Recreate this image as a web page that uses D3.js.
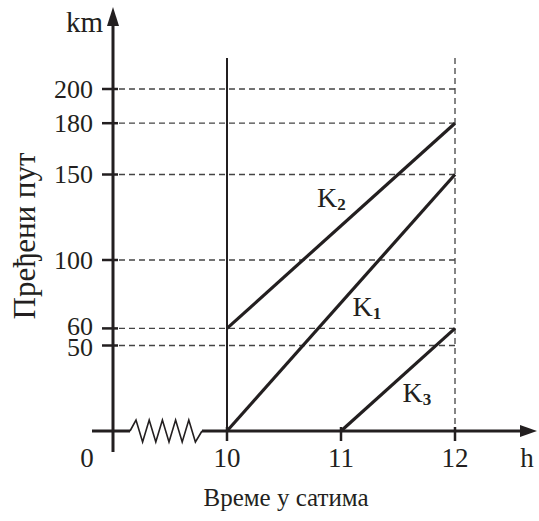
<!DOCTYPE html>
<html><head><meta charset="utf-8">
<script src="https://cdn.jsdelivr.net/npm/d3@7"></script>
<style>body{margin:0;background:#fff}svg{display:block}svg text{font-family:"Liberation Serif","DejaVu Serif",serif}</style>
</head><body><svg id="c" width="539" height="521"></svg>
<script>
const yTicks=[50,60,100,150,180,200];
const xTicks=[10,11,12];
const seriesNames=["1","2","3"];
const startTimes=[10,10,11];
const startDist=[0,60,0];
const endTimes=[12,12,12];
const endDist=[150,180,60];
const labelAt=[[11.1,67],[10.79,131],[11.54,17]];

const svg=d3.select("#c");
const ink="#231f20";
const x=d3.scaleLinear().domain([10,12]).range([227,455]);
const y=d3.scaleLinear().domain([0,200]).range([431,89]);
const x0=113;

svg.selectAll(".hg").data(yTicks).join("line")
 .attr("x1",x0+6).attr("x2",x(12)).attr("y1",d=>y(d)).attr("y2",d=>y(d))
 .attr("stroke","#444").attr("stroke-width",1.3).attr("stroke-dasharray","6,4");
svg.append("line").attr("x1",x(12)).attr("x2",x(12)).attr("y1",58).attr("y2",y(0))
 .attr("stroke","#444").attr("stroke-width",1.3).attr("stroke-dasharray","6,4");
svg.append("line").attr("x1",x(10)).attr("x2",x(10)).attr("y1",58).attr("y2",y(0))
 .attr("stroke",ink).attr("stroke-width",2);

svg.append("line").attr("x1",x0).attr("x2",x0).attr("y1",452).attr("y2",22)
 .attr("stroke",ink).attr("stroke-width",3);
svg.append("path").attr("d",`M${x0},7 L${x0-6},26 L${x0+6},26 Z`).attr("fill",ink);
svg.selectAll(".yt").data(yTicks).join("line")
 .attr("x1",x0-11).attr("x2",x0+5).attr("y1",d=>y(d)).attr("y2",d=>y(d))
 .attr("stroke",ink).attr("stroke-width",2.5);
const nudge=d=>d===60?-2:d===50?2:0;
svg.selectAll(".yl").data(yTicks).join("text")
 .attr("x",x0-20).attr("y",d=>y(d)+nudge(d)).attr("dy","0.33em").attr("text-anchor","end")
 .attr("font-size",26).attr("fill",ink).text(d=>d);
svg.append("text").attr("x",103).attr("y",32).attr("text-anchor","end").attr("font-size",29).attr("fill",ink).text("km");

const ay=y(0);
const zz=[[130,ay]];
for(let i=0;i<5;i++){zz.push([136+i*13.2,ay-11]);zz.push([142.6+i*13.2,ay+11]);}
zz.push([202,ay]);
svg.append("line").attr("x1",92).attr("x2",130).attr("y1",ay).attr("y2",ay).attr("stroke",ink).attr("stroke-width",3);
svg.append("path").attr("d",d3.line()(zz)).attr("fill","none").attr("stroke",ink).attr("stroke-width",1.6);
svg.append("line").attr("x1",202).attr("x2",524).attr("y1",ay).attr("y2",ay).attr("stroke",ink).attr("stroke-width",3);
svg.append("path").attr("d",`M537,${ay} L520,${ay-6} L520,${ay+6} Z`).attr("fill",ink);
svg.selectAll(".xt").data(xTicks).join("line")
 .attr("x1",d=>x(d)).attr("x2",d=>x(d)).attr("y1",ay-4).attr("y2",ay+10)
 .attr("stroke",ink).attr("stroke-width",2.5);
svg.selectAll(".xl").data(xTicks).join("text")
 .attr("x",d=>x(d)).attr("y",467).attr("text-anchor","middle").attr("font-size",27).attr("fill",ink).text(d=>d);
svg.append("text").attr("x",87).attr("y",467).attr("text-anchor","middle").attr("font-size",27).attr("fill",ink).text("0");
svg.append("text").attr("x",527).attr("y",467).attr("text-anchor","middle").attr("font-size",27).attr("fill",ink).text("h");

svg.selectAll(".sl").data(seriesNames).join("line")
 .attr("x1",(d,i)=>x(startTimes[i])).attr("y1",(d,i)=>y(startDist[i]))
 .attr("x2",(d,i)=>x(endTimes[i])).attr("y2",(d,i)=>y(endDist[i]))
 .attr("stroke",ink).attr("stroke-width",3.2);
const lab=svg.selectAll(".lb").data(seriesNames).join("text")
 .attr("x",(d,i)=>x(labelAt[i][0])).attr("y",(d,i)=>y(labelAt[i][1]))
 .attr("font-size",28).attr("fill",ink);
lab.append("tspan").text("K");
lab.append("tspan").attr("font-size",17).attr("dy",3).attr("font-weight","bold").text(d=>d);

svg.append("text").attr("transform","translate(35,236) rotate(-90)").attr("text-anchor","middle")
 .attr("font-size",31).attr("fill",ink).text("Пређени пут");
svg.append("text").attr("x",286).attr("y",506).attr("text-anchor","middle")
 .attr("font-size",25).attr("fill",ink).text("Време у сатима");
</script></body></html>
